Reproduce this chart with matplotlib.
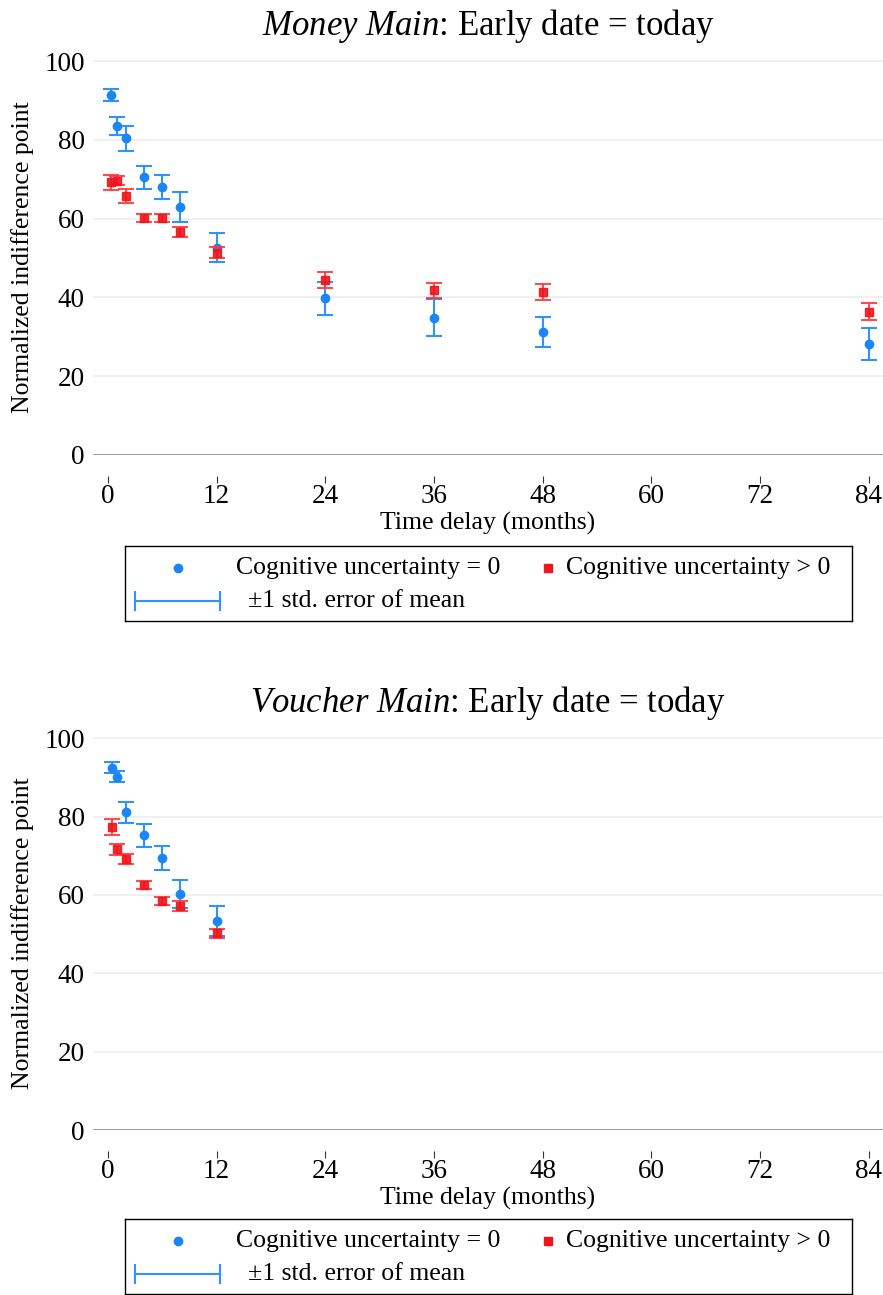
import matplotlib
matplotlib.use("Agg")
import matplotlib.pyplot as plt
from matplotlib.lines import Line2D

# ========== DATA ==========
months_money = [0.33, 1, 2, 4, 6, 8, 12, 24, 36, 48, 84]
money_cu0 = [91.5, 83.6, 80.4, 70.5, 68.1, 62.9, 52.6, 39.8, 34.9, 31.2, 28.2]
money_cu0_se = [1.5, 2.3, 3.2, 3.0, 3.0, 3.8, 3.7, 4.2, 4.8, 3.9, 4.0]
money_cu1 = [69.2, 69.7, 65.7, 60.2, 60.2, 56.6, 51.3, 44.5, 41.8, 41.3, 36.4]
money_cu1_se = [2.0, 1.2, 1.8, 1.1, 1.1, 1.3, 1.4, 2.0, 2.0, 2.0, 2.1]

months_voucher = [0.4, 1, 2, 4, 6, 8, 12]
voucher_cu0 = [92.4, 90.2, 81.1, 75.2, 69.5, 60.3, 53.3]
voucher_cu0_se = [1.4, 1.5, 2.7, 2.9, 3.1, 3.6, 3.8]
voucher_cu1 = [77.3, 71.6, 69.2, 62.5, 58.5, 57.2, 50.2]
voucher_cu1_se = [2.0, 1.4, 1.3, 1.0, 1.0, 1.2, 1.2]

x_ticks = [0, 12, 24, 36, 48, 60, 72, 84]
y_ticks = [0, 20, 40, 60, 80, 100]
# ==========================

BLUE = "#1a86f5"
BLUE_BAR = "#2f92ff"
RED = "#f0141c"
RED_BAR = "#ff3a3a"
FS = 18.5
TICK_FS = 19.5

plt.rcParams["font.family"] = ["Liberation Serif", "DejaVu Serif"]
plt.rcParams["mathtext.fontset"] = "custom"
plt.rcParams["mathtext.rm"] = "Liberation Serif"
plt.rcParams["mathtext.it"] = "Liberation Serif:italic"

W, H = 883, 1295
fig = plt.figure(figsize=(W / 100, H / 100), dpi=100)


def px_box(x0, y0, x1, y1):
    # pixel box (top-left origin) -> figure fraction rect
    return [x0 / W, 1 - y1 / H, (x1 - x0) / W, (y1 - y0) / H]


def draw_panel(rect, title, x, cu0, cu0_se, cu1, cu1_se):
    ax = fig.add_axes(rect)
    ax.errorbar(x, cu0, yerr=cu0_se, fmt="o", color=BLUE, ecolor=BLUE_BAR,
                ms=6, elinewidth=1.5, capsize=6, capthick=1.5, zorder=3)
    ax.errorbar(x, cu1, yerr=cu1_se, fmt="s", color=RED, ecolor=RED_BAR,
                ms=5.5, elinewidth=1.5, capsize=6, capthick=1.5, alpha=0.9,
                zorder=4)
    ax.set_xlim(-1.66, 85.6)
    ax.set_ylim(0, 100.3)
    ax.set_xticks(x_ticks)
    ax.set_yticks(y_ticks)
    ax.grid(axis="y", color="#eeeeee", lw=1.2, zorder=0)
    ax.set_axisbelow(True)
    ax.axhline(0, color="#8c8c8c", lw=1.2, zorder=1)
    for s in ["top", "right", "left"]:
        ax.spines[s].set_visible(False)
    ax.spines["bottom"].set_position(("outward", 15))
    ax.spines["bottom"].set_color("none")
    ax.tick_params(axis="x", length=5, width=0.8, color="#333333",
                   labelsize=TICK_FS, pad=1)
    ax.tick_params(axis="y", length=0, labelsize=TICK_FS, pad=6)
    ax.set_xlabel("Time delay (months)", fontsize=FS, labelpad=2)
    ax.set_ylabel("Normalized indifference point", fontsize=FS, labelpad=7)
    ax.set_title(title, fontsize=25, pad=18)
    return ax


def draw_legend(top):
    lg = fig.add_axes(px_box(125, top, 852, top + 75))
    lg.set_xlim(0, 727)
    lg.set_ylim(75, 0)
    lg.set_xticks([])
    lg.set_yticks([])
    for s in lg.spines.values():
        s.set_color("black")
        s.set_linewidth(1.0)
    lg.plot([53], [22], "o", color=BLUE, ms=6)
    lg.text(111, 22, "Cognitive uncertainty = 0", fontsize=FS, va="center")
    lg.plot([423], [22], "s", color=RED, ms=5.5)
    lg.text(441, 22, "Cognitive uncertainty > 0", fontsize=FS, va="center")
    lg.add_line(Line2D([10, 95], [55, 55], color=BLUE_BAR, lw=1.5,
                       marker="|", markevery=[0, 1], ms=14, mew=1.5))
    lg.text(123, 55, "\u00b11 std. error of mean", fontsize=FS, va="center")


draw_panel(px_box(93, 60, 883, 455), r"$Money\ Main$: Early date = today",
           months_money, money_cu0, money_cu0_se, money_cu1, money_cu1_se)
draw_legend(546)

draw_panel(px_box(93, 737, 883, 1130), r"$Voucher\ Main$: Early date = today",
           months_voucher, voucher_cu0, voucher_cu0_se, voucher_cu1, voucher_cu1_se)
draw_legend(1219)

fig.savefig("out.png", dpi=100)
